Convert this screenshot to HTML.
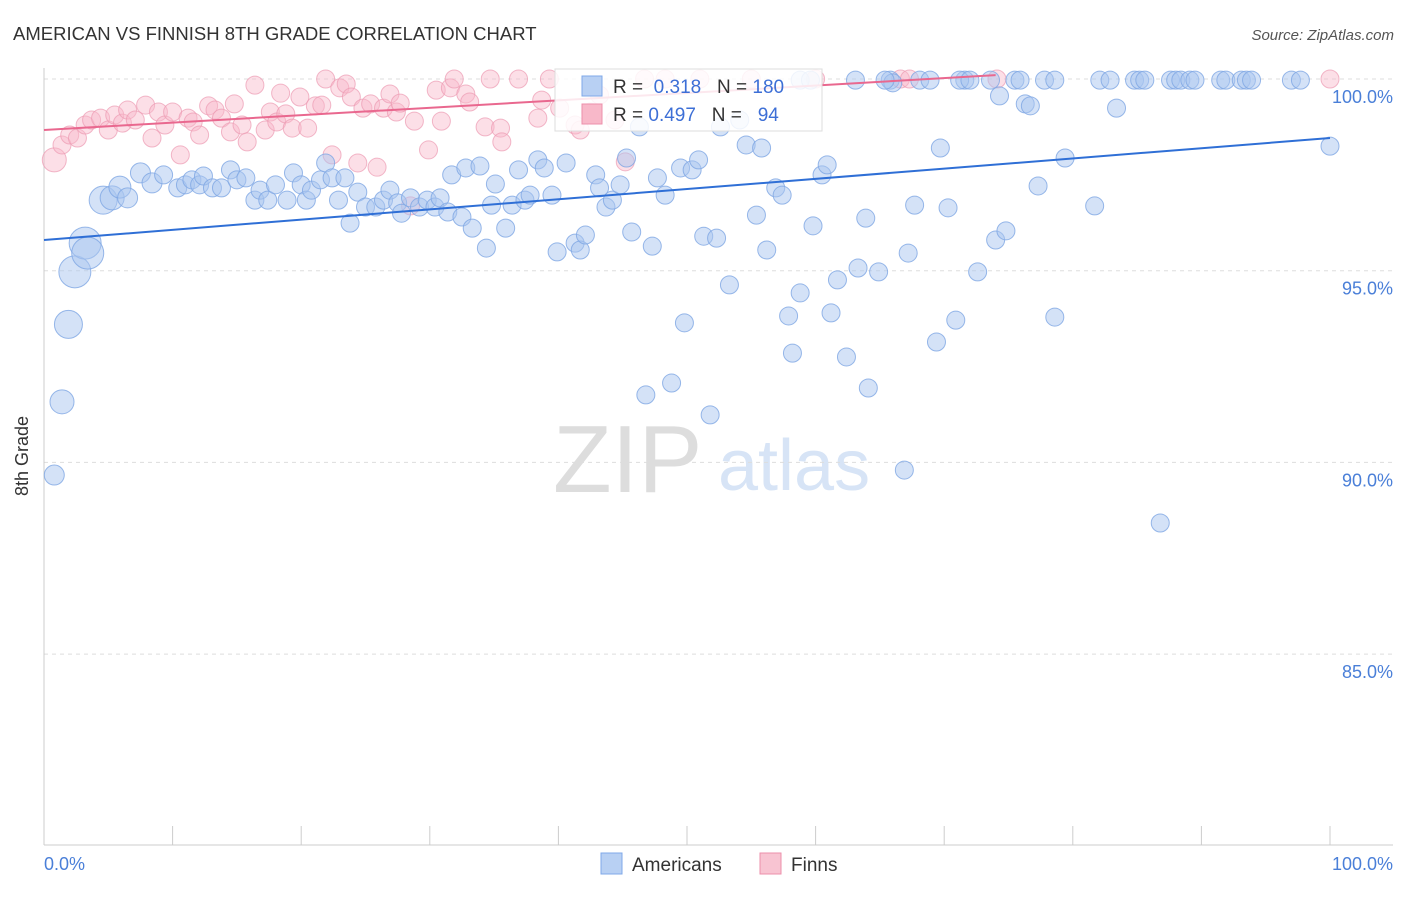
<!DOCTYPE html>
<html><head><meta charset="utf-8"><style>
body{margin:0;background:#fff;font-family:"Liberation Sans",sans-serif;}
svg text{font-family:"Liberation Sans",sans-serif;}
</style></head><body>
<svg id="chart" width="1406" height="892" viewBox="0 0 1406 892">
<text x="13" y="40" font-size="18.5" fill="#333">AMERICAN VS FINNISH 8TH GRADE CORRELATION CHART</text>
<text x="1394" y="40" font-size="15" fill="#555" font-style="italic" text-anchor="end">Source: ZipAtlas.com</text>
<g><text x="553" y="492" font-size="96" fill="#ddd" font-family="Liberation Serif">ZIP</text><text x="718" y="490" font-size="72" fill="#d7e4f6">atlas</text></g>
<g id="grid"></g><g id="axes"></g><g id="pts"></g><g id="lines"></g>
<text x="28" y="456" font-size="18" fill="#333" transform="rotate(-90 28 456)" text-anchor="middle">8th Grade</text>
<g>
<rect x="555" y="69" width="267" height="62" fill="#fff" fill-opacity="0.85" stroke="#ddd"/>
<rect x="582" y="76" width="20" height="20" fill="#b8d0f3" stroke="#7fa8e8"/>
<rect x="582" y="104" width="20" height="20" fill="#f8b8c9" stroke="#ec8fab"/>
<text x="613" y="93" font-size="19" fill="#333">R = <tspan fill="#3d6fd6">&#160;0.318</tspan>&#160;&#160; N = <tspan fill="#3d6fd6">180</tspan></text>
<text x="613" y="121" font-size="19" fill="#333">R = <tspan fill="#3d6fd6">0.497</tspan>&#160;&#160; N = <tspan fill="#3d6fd6">&#160;&#160;94</tspan></text>
</g>
<g>
<rect x="601" y="853" width="21" height="21" fill="#b8d0f3" stroke="#7fa8e8"/>
<text x="632" y="871" font-size="19" fill="#333">Americans</text>
<rect x="760" y="853" width="21" height="21" fill="#f8c4d2" stroke="#ec8fab"/>
<text x="791" y="871" font-size="19" fill="#333">Finns</text>
</g>
</svg>
<script>
const yTicks=[100,95,90,85];
const yTickLabels=["100.0%","95.0%","90.0%","85.0%"];
const xTickLabels=["0.0%","100.0%"];
const blueX=[2.4,3.2,3.4,1.9,1.4,0.8,4.6,5.3,5.9,6.5,7.5,8.4,9.3,10.4,11,11.5,12.1,12.4,13.1,13.8,14.5,15,15.7,16.4,16.8,17.4,18,18.9,19.4,20,20.4,20.8,21.5,21.9,22.4,22.9,23.4,23.8,24.4,25,25.8,26.4,26.9,27.5,27.8,28.5,29.2,29.8,30.4,30.8,31.4,31.7,32.5,32.8,33.3,33.9,34.4,35.1,34.8,35.9,36.4,36.9,37.4,37.8,38.4,38.9,39.5,39.9,40.6,41.3,41.7,42.1,42.9,43.2,43.7,44.2,44.8,45.3,45.7,46.3,47.3,47.7,48.3,48.8,46.8,49.8,49.5,50.4,50.9,51.3,51.8,52.3,52.6,53.3,54.1,54.6,55.4,55.8,56.2,56.9,57.4,57.9,58.2,58.8,59.8,60.5,60.9,61.2,61.7,62.4,63.3,63.9,64.1,64.9,65.8,66,66.9,67.2,67.7,69.4,69.7,70.3,70.9,71.6,72.6,74,74.3,74.8,76.3,76.7,77.3,78.6,79.4,81.7,83.4,86.8,100,63.1,65.4,68.1,68.9,71.2,72,73.6,75.5,75.9,77.8,78.6,82.1,82.9,84.8,85.2,85.6,87.6,88,88.4,89.1,89.5,91.5,91.9,93.1,93.5,93.9,97,97.7,58.8,59.6];
const blueY=[94.97,95.72,95.46,93.6,91.58,89.67,96.84,96.9,97.18,96.9,97.55,97.29,97.5,97.16,97.24,97.37,97.24,97.47,97.16,97.16,97.63,97.37,97.42,96.84,97.1,96.84,97.24,96.84,97.55,97.24,96.84,97.1,97.37,97.81,97.42,96.84,97.42,96.24,97.05,96.66,96.66,96.84,97.1,96.77,96.5,96.9,96.66,96.84,96.66,96.9,96.53,97.5,96.4,97.68,96.11,97.73,95.59,97.26,96.71,96.11,96.71,97.63,96.84,96.97,97.89,97.68,96.97,95.49,97.81,95.72,95.54,95.93,97.5,97.16,96.66,96.84,97.24,97.94,96.01,98.75,95.64,97.42,96.97,92.07,91.76,93.64,97.68,97.63,97.89,95.9,91.24,95.85,98.75,94.63,98.93,98.28,96.45,98.2,95.54,97.16,96.97,93.82,92.85,94.42,96.17,97.5,97.76,93.9,94.76,92.75,95.07,96.37,91.94,94.97,99.97,99.9,89.8,95.46,96.71,93.14,98.2,96.64,93.71,99.97,94.97,95.8,99.56,96.04,99.35,99.3,97.21,93.79,97.94,96.69,99.24,88.42,98.25,99.97,99.97,99.97,99.97,99.97,99.97,99.97,99.97,99.97,99.97,99.97,99.97,99.97,99.97,99.97,99.97,99.97,99.97,99.97,99.97,99.97,99.97,99.97,99.97,99.97,99.97,99.97,99.97,99.97,99.97];
const blueR=[16,16,16,14,12,10,14,12,11,10,10,10,9];
const pinkX=[0.8,1.4,2,2.6,3.2,3.7,4.4,5,5.5,6.1,6.5,7.1,7.9,8.4,8.9,9.4,10,10.6,11.2,11.6,12.1,12.8,13.3,13.8,14.5,14.8,15.4,15.8,16.4,17.2,17.6,18.1,18.4,18.8,19.3,19.9,20.5,21.1,21.6,21.9,22.4,23,23.5,23.9,24.4,24.8,25.4,25.9,26.4,26.9,27.4,27.7,28.5,28.8,29.9,30.5,30.9,31.6,31.9,32.8,33.1,34.3,34.7,35.5,35.6,36.9,38.4,38.7,39.3,40.1,41.3,41.7,42.5,43.2,44.4,45.2,46.7,48.3,51,55,60,66.6,67.3,74.1,100];
const pinkY=[97.89,98.28,98.54,98.46,98.8,98.93,98.98,98.67,99.06,98.85,99.19,98.93,99.32,98.46,99.14,98.8,99.14,98.02,98.98,98.88,98.54,99.3,99.19,98.98,98.62,99.35,98.8,98.36,99.84,98.67,99.14,98.88,99.63,99.09,98.72,99.53,98.72,99.3,99.32,100,98.02,99.77,99.87,99.53,97.81,99.24,99.35,97.7,99.24,99.61,99.14,99.37,96.69,98.9,98.15,99.71,98.9,99.77,100,99.61,99.4,98.75,100,98.72,98.36,100,98.98,99.45,100,99.24,98.8,98.67,99.14,99.58,98.93,97.84,100,100,100,100,100,100,100,100,100];
const blueTrend=[[0,95.8],[100,98.46]];
const pinkTrend=[[0,98.67],[74,100.1]];
const X0=44,X1=1330,Yv0=100,Yp0=79,PX_PER=38.34;
const xs=v=>X0+(X1-X0)*v/100;
const ys=v=>Yp0+(Yv0-v)*PX_PER;
const NS="http://www.w3.org/2000/svg";
function mk(tag,attrs,parent){const e=document.createElementNS(NS,tag);for(const k in attrs)e.setAttribute(k,attrs[k]);document.getElementById(parent).appendChild(e);return e;}
yTicks.forEach((t,i)=>{
 const g=mk('line',{x1:44,x2:1393,y1:ys(t),y2:ys(t),stroke:'#ddd','stroke-dasharray':'4,4'},'grid');
 
 
 const l=mk('text',{x:1393,y:ys(t)+24,'font-size':18,fill:'#4a7fd8','text-anchor':'end'},'axes');
 l.textContent=yTickLabels[i];
 
 
});
const ax=mk('line',{x1:44,x2:44,y1:68,y2:845,stroke:'#ccc'},'axes');


const bx=mk('line',{x1:44,x2:1393,y1:845,y2:845,stroke:'#ccc'},'axes');


for(let i=0;i<=10;i++){
 const t=mk('line',{x1:xs(i*10),x2:xs(i*10),y1:826,y2:845,stroke:'#ccc'},'axes');
 
 
}
[[0,'start',44],[100,'end',1393]].forEach((d,i)=>{
 const l=mk('text',{x:d[2],y:870,'font-size':18,fill:'#4a7fd8','text-anchor':d[1]},'axes');
 l.textContent=xTickLabels[i];
 
 
});
pinkX.forEach((x,i)=>{
 const c=mk('circle',{cx:xs(x),cy:ys(pinkY[i]),r:i==0?12:9,fill:'#f8b8c9','fill-opacity':0.45,stroke:'#ec9ab2','stroke-opacity':0.7},'pts');
 
 
});
blueX.forEach((x,i)=>{
 const c=mk('circle',{cx:xs(x),cy:ys(blueY[i]),r:blueR[i]||9,fill:'#a9c6f0','fill-opacity':0.5,stroke:'#7ea6e4','stroke-opacity':0.8},'pts');
 
 
});
const bl=mk('line',{x1:xs(blueTrend[0][0]),y1:ys(blueTrend[0][1]),x2:xs(blueTrend[1][0]),y2:ys(blueTrend[1][1]),stroke:'#2f6fd6','stroke-width':2},'lines');


const pl=mk('line',{x1:xs(pinkTrend[0][0]),y1:ys(pinkTrend[0][1]),x2:xs(pinkTrend[1][0]),y2:ys(pinkTrend[1][1]),stroke:'#e9688f','stroke-width':2},'lines');


</script>
</body></html>
